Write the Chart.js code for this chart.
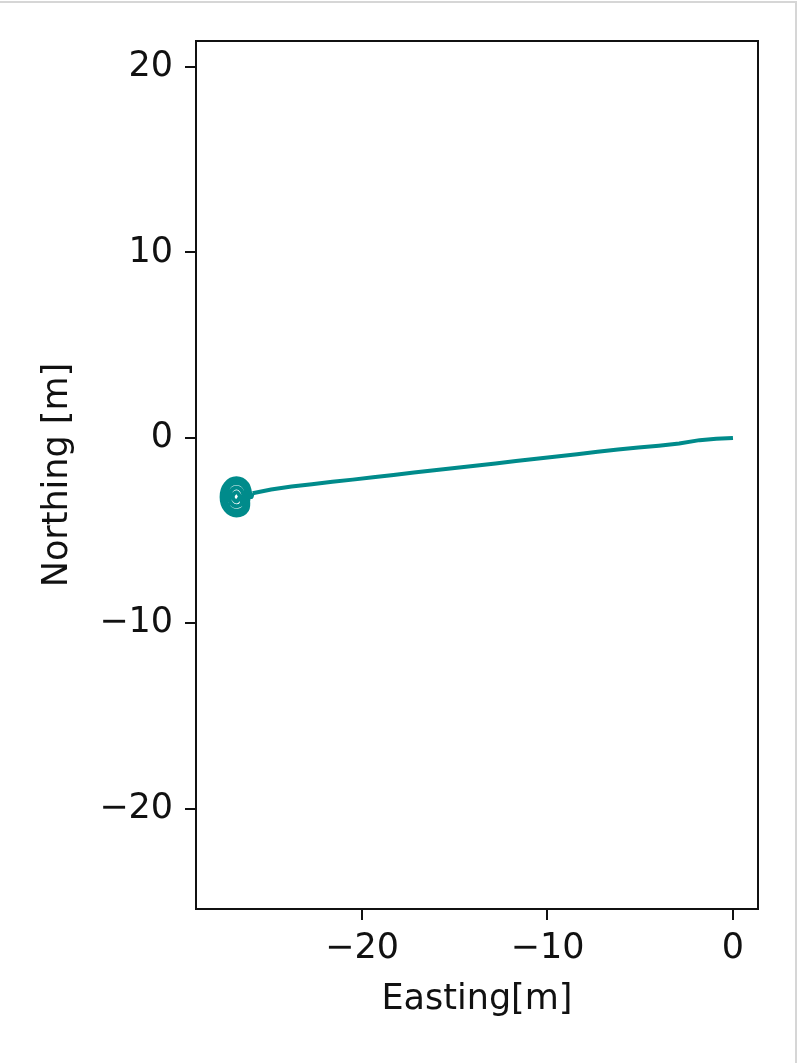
<!DOCTYPE html>
<html>
<head>
<meta charset="utf-8">
<script src="https://cdn.jsdelivr.net/npm/chart.js@4.4.1/dist/chart.umd.min.js"></script>
<style>
  html, body { margin: 0; padding: 0; background: #fff; }
  #chart { position: absolute; left: 0; top: 0; }
  #edge {
    position: absolute; left: 0; top: 1px; width: 795px; height: 1062px;
    border-top: 2px solid #d6d6d6; border-right: 2px solid #d6d6d6;
    pointer-events: none;
  }
</style>
</head>
<body>
<canvas id="chart" width="797" height="1063"></canvas>
<div id="edge"></div>
<script>
// straight part of the track, origin -> west
const trackEast  = [0, -0.9, -1.8, -2.9, -4.0, -5.1, -6.2, -7.3, -8.4, -9.5, -10.6, -11.7, -12.8, -13.9, -15.0, -16.1, -17.2, -18.3, -19.4, -20.5, -21.6, -22.7, -23.8, -24.9, -25.9];
const trackNorth = [0, -0.05, -0.12, -0.3, -0.42, -0.52, -0.63, -0.75, -0.88, -1.0, -1.12, -1.25, -1.38, -1.5, -1.62, -1.74, -1.86, -2.0, -2.12, -2.25, -2.37, -2.5, -2.62, -2.78, -2.98];

// loops at the western end
const loopEast  = [-25.9, -25.97, -26.20, -26.77, -27.34, -27.57, -27.34, -26.77, -26.20, -26.17, -26.35, -26.77, -27.19, -27.37, -27.19, -26.77, -26.35, -26.37, -26.49, -26.77, -27.05, -27.17, -27.05, -26.77, -26.49, -26.57, -26.77, -26.97, -26.77, -26.6, -26.05, -26.26, -26.77, -27.28, -27.49, -27.28, -26.77, -26.26, -26.1];
const loopNorth = [-2.98, -3.18, -2.47, -2.18, -2.47, -3.18, -3.89, -4.18, -3.89, -3.18, -2.65, -2.43, -2.65, -3.18, -3.71, -3.93, -3.71, -3.18, -2.83, -2.68, -2.83, -3.18, -3.53, -3.68, -3.53, -3.18, -2.93, -3.18, -3.43, -3.25, -3.15, -2.52, -2.25, -2.52, -3.15, -3.80, -4.08, -3.80, -3.2];

const xTicks = [-20, -10, 0];
const yTicks = [-20, -10, 0, 10, 20];

const lineColor = '#008b8b';
const font = { family: 'DejaVu Sans', size: 35 };

const toPoints = (xs, ys) => xs.map((x, i) => ({ x: x, y: ys[i] }));
const fmt = (v) => (v < 0 ? '\u2212' + Math.abs(v) : String(v));

const frame = {
  id: 'frame',
  afterDraw(chart) {
    const { ctx, chartArea: a } = chart;
    ctx.save();
    ctx.strokeStyle = '#111';
    ctx.lineWidth = 2;
    ctx.strokeRect(a.left, a.top, a.right - a.left, a.bottom - a.top);
    ctx.restore();
  }
};

new Chart(document.getElementById('chart').getContext('2d'), {
  type: 'scatter',
  data: {
    datasets: [
      {
        data: toPoints(trackEast, trackNorth),
        showLine: true,
        borderColor: lineColor,
        borderWidth: 4,
        pointRadius: 0,
        tension: 0,
      },
      {
        data: toPoints(loopEast, loopNorth),
        showLine: true,
        borderColor: lineColor,
        borderWidth: 4,
        pointRadius: 0,
        tension: 0.4,
      },
    ],
  },
  options: {
    responsive: false,
    animation: false,
    layout: { padding: { top: 41, right: 39, bottom: 0, left: 0 } },
    plugins: { legend: { display: false }, tooltip: { enabled: false } },
    scales: {
      x: {
        type: 'linear',
        min: -28.95,
        max: 1.35,
        afterFit: (s) => { s.height = 154; },
        afterBuildTicks: (s) => { s.ticks = xTicks.map((v) => ({ value: v })); },
        ticks: { font: font, color: '#111', padding: 8, callback: fmt, maxRotation: 0 },
        grid: { drawOnChartArea: false, tickLength: 11, color: '#111', lineWidth: 2 },
        border: { display: false },
        title: { display: true, text: 'Easting[m]', font: font, color: '#111', padding: { top: 0, bottom: 42 } },
      },
      y: {
        type: 'linear',
        min: -25.4,
        max: 21.4,
        afterFit: (s) => { s.width = 196; },
        afterBuildTicks: (s) => { s.ticks = yTicks.map((v) => ({ value: v })); },
        ticks: { font: font, color: '#111', padding: 12, callback: fmt },
        grid: { drawOnChartArea: false, tickLength: 11, color: '#111', lineWidth: 2 },
        border: { display: false },
        title: { display: true, text: 'Northing [m]', font: font, color: '#111', padding: { top: 37, bottom: 0 } },
      },
    },
  },
  plugins: [frame],
});
</script>
</body>
</html>
